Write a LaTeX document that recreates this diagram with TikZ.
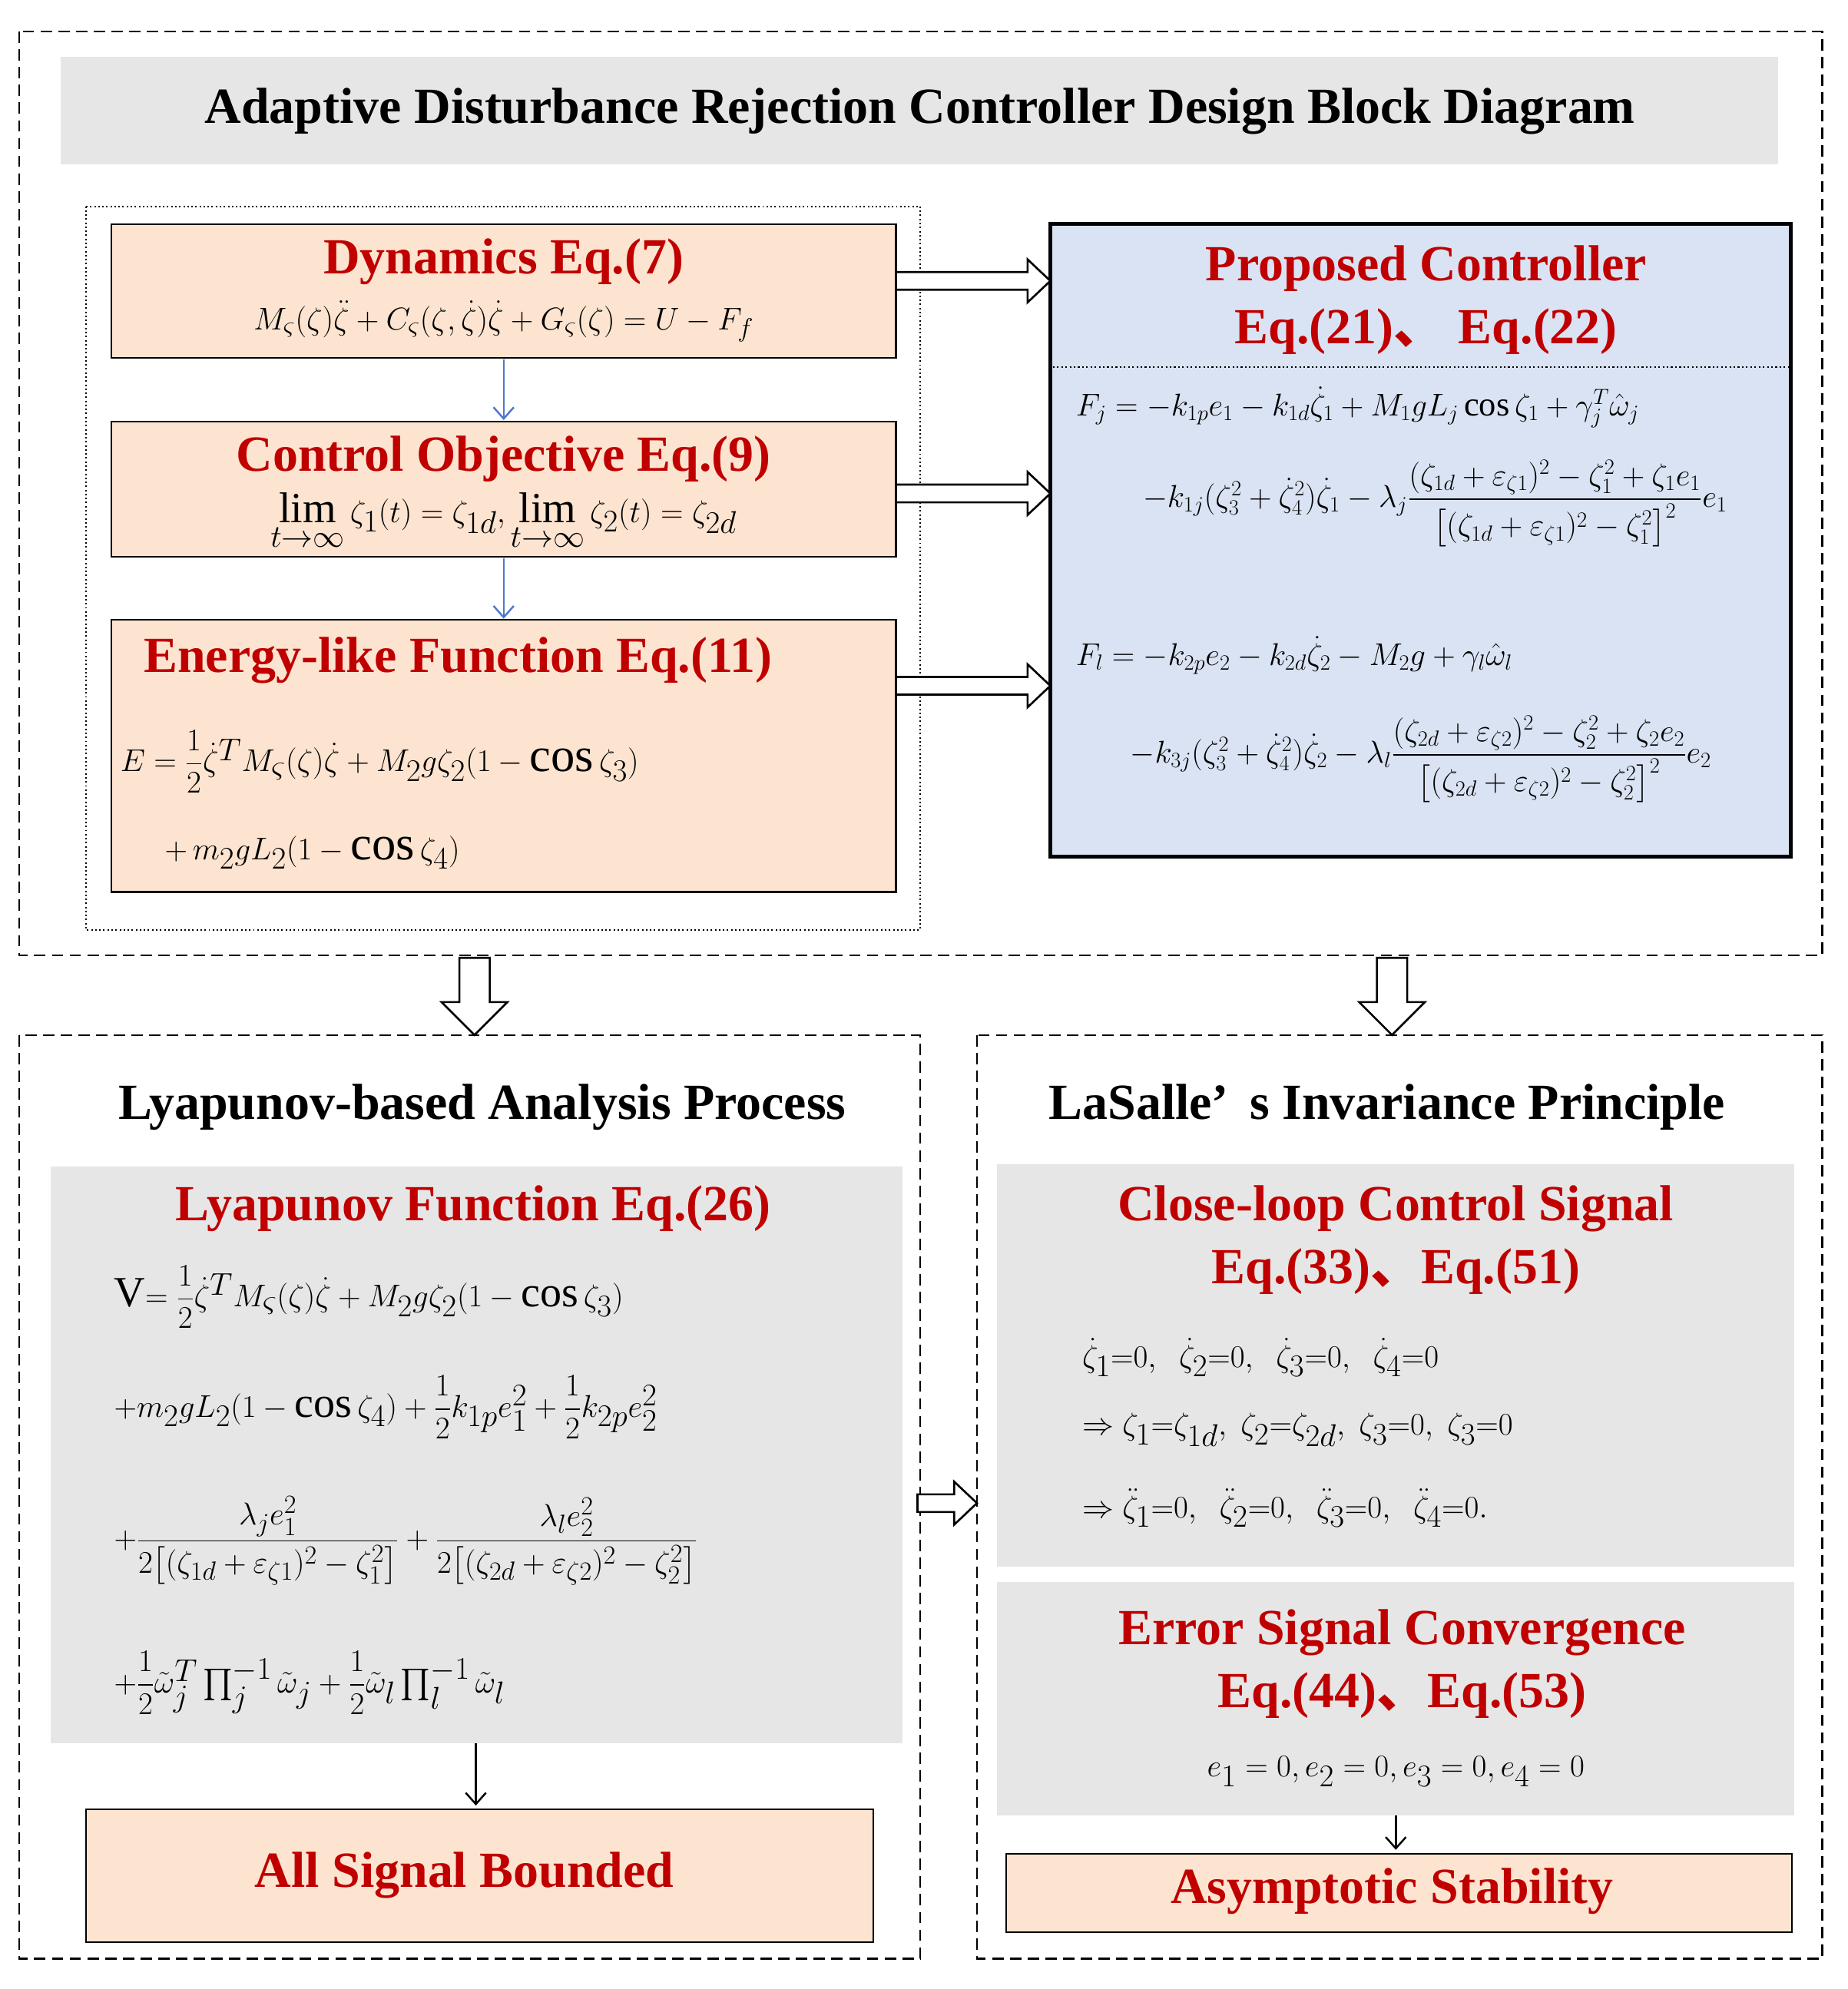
\documentclass[tikz,border=0pt]{standalone}
\usepackage{amsmath}
\usepackage{fontspec}
\setmainfont{Liberation Serif}
\newfontfamily\cjk{Noto Sans CJK SC}
\usetikzlibrary{arrows.meta}
\definecolor{org}{RGB}{252,228,208}
\definecolor{redt}{RGB}{192,0,0}
\definecolor{gry}{RGB}{230,230,230}
\definecolor{blu}{RGB}{218,227,243}
\definecolor{arb}{RGB}{80,120,200}
\tikzset{
 dbox/.style={draw,dashed,line width=1.3pt,dash pattern=on 9pt off 5pt},
 obox/.style={draw,fill=org,line width=1.3pt},
 ttl/.style={font=\fontsize{40}{46}\selectfont\bfseries,text=black},
 rt/.style={font=\fontsize{40}{50}\selectfont\bfseries,text=redt,align=center},
 eq/.style={font=\fontsize{32}{36}\selectfont,anchor=west,inner sep=0pt},
 hol/.style={draw,line width=1.6pt,fill=white},
 barr/.style={draw=arb,line width=1.5pt,-{Straight Barb[length=9pt,width=16pt]}},
 karr/.style={draw,line width=1.5pt,-{Straight Barb[length=9pt,width=16pt]}}
}
\newcommand\dun{{\cjk 、}}
\newcommand\holR[3]{\draw[hol] (#1,#3-7)--(#2-18,#3-7)--(#2-18,#3-17)--(#2,#3)--(#2-18,#3+17)--(#2-18,#3+7)--(#1,#3+7)--cycle;}
\newcommand\holD[3]{\draw[hol] (#3-12,#1)--(#3+12,#1)--(#3+12,#2-26)--(#3+26,#2-26)--(#3,#2)--(#3-26,#2-26)--(#3-12,#2-26)--cycle;}
\begin{document}
\begin{tikzpicture}[x=1pt,y=-1pt]
\useasboundingbox (0,0) rectangle (1460,1572);
% top
\draw[dbox] (15,25) rectangle (1440,755);
\fill[gry] (48,45) rectangle (1405,130);
\node[ttl] (title) at (727,88) {Adaptive Disturbance Rejection Controller Design Block Diagram};
\draw[dotted,line width=1.2pt] (68,163) rectangle (727,735);
\draw[obox] (88,177) rectangle (708,283);
\node[rt] (t1) at (398,207) {Dynamics Eq.(7)};
\node[eq,anchor=center] (e1) at (398,254) {$M_\varsigma(\zeta)\ddot\zeta+C_\varsigma(\zeta,\dot\zeta)\dot\zeta+G_\varsigma(\zeta)=U-F_f$};
\draw[obox] (88,333) rectangle (708,440);
\node[rt] (t2) at (398,363) {Control Objective Eq.(9)};
\node[eq,anchor=center,font=\fontsize{34}{36}\selectfont] (e2) at (398,412) {$\lim\limits_{t\to\infty}\zeta_1(t)=\zeta_{1d},\lim\limits_{t\to\infty}\zeta_2(t)=\zeta_{2d}$};
\draw[obox] (88,490) rectangle (708,705);
\node[rt] (t3) at (362,522) {Energy-like Function Eq.(11)};
\node[eq,font=\fontsize{38}{40}\selectfont] (e3) at (95,602) {$E=\dfrac12\dot\zeta^T M_\varsigma(\zeta)\dot\zeta+M_2g\zeta_2(1-\cos\zeta_3)$};
\node[eq,font=\fontsize{38}{40}\selectfont] (e3b) at (130,674) {$+\,m_2gL_2(1-\cos\zeta_4)$};
\draw[barr] (398,284) -- (398,332);
\draw[barr] (398,441) -- (398,489);
% blue
\draw[fill=blu,line width=3pt] (830,177) rectangle (1415,677);
\node[rt] (t4) at (1127,237) {Proposed Controller\\Eq.(21)\dun\;Eq.(22)};
\draw[dotted,line width=1.3pt] (832,290) -- (1413,290);
\node[eq,font=\fontsize{27}{30}\selectfont] at (850,322) {$F_j=-k_{1p}e_1-k_{1d}\dot\zeta_1+M_1gL_j\cos\zeta_1+\gamma_j^T\hat\omega_j$};
\node[eq,font=\fontsize{27}{30}\selectfont] at (903,398) {$-k_{1j}(\zeta_3^2+\dot\zeta_4^2)\dot\zeta_1-\lambda_j\dfrac{(\zeta_{1d}+\varepsilon_{\zeta1})^2-\zeta_1^2+\zeta_1e_1}{\big[(\zeta_{1d}+\varepsilon_{\zeta1})^2-\zeta_1^2\big]^2}e_1$};
\node[eq,font=\fontsize{27}{30}\selectfont] at (850,518) {$F_l=-k_{2p}e_2-k_{2d}\dot\zeta_2-M_2g+\gamma_l\hat\omega_l$};
\node[eq,font=\fontsize{27}{30}\selectfont] at (893,600) {$-k_{3j}(\zeta_3^2+\dot\zeta_4^2)\dot\zeta_2-\lambda_l\dfrac{(\zeta_{2d}+\varepsilon_{\zeta2})^2-\zeta_2^2+\zeta_2e_2}{\big[(\zeta_{2d}+\varepsilon_{\zeta2})^2-\zeta_2^2\big]^2}e_2$};
\holR{708}{830}{222}
\holR{708}{830}{390}
\holR{708}{830}{542}
\holD{757}{818}{375}
\holD{757}{818}{1100}
% bottom left
\draw[dbox] (15,818) rectangle (727,1548);
\node[ttl] (t5) at (381,875) {Lyapunov-based Analysis Process};
\fill[gry] (40,922) rectangle (713,1378);
\node[rt] (t6) at (374,955) {Lyapunov Function Eq.(26)};
\node[eq,font=\fontsize{34}{38}\selectfont] at (90,1025) {V$=\dfrac12\dot\zeta^T M_\varsigma(\zeta)\dot\zeta+M_2g\zeta_2(1-\cos\zeta_3)$};
\node[eq,font=\fontsize{34}{38}\selectfont] at (90,1112) {$+m_2gL_2(1-\cos\zeta_4)+\dfrac12k_{1p}e_1^2+\dfrac12k_{2p}e_2^2$};
\node[eq,font=\fontsize{30}{34}\selectfont] at (90,1218) {$+\dfrac{\lambda_je_1^2}{2\big[(\zeta_{1d}+\varepsilon_{\zeta1})^2-\zeta_1^2\big]}+\dfrac{\lambda_le_2^2}{2\big[(\zeta_{2d}+\varepsilon_{\zeta2})^2-\zeta_2^2\big]}$};
\node[eq,font=\fontsize{34}{38}\selectfont] at (90,1330) {$+\dfrac12\tilde\omega_j^T\prod\nolimits_j^{-1}\tilde\omega_j+\dfrac12\tilde\omega_l\prod\nolimits_l^{-1}\tilde\omega_l$};
\draw[karr] (376,1378) -- (376,1427);
\draw[obox] (68,1430) rectangle (690,1535);
\node[rt] (t7) at (367,1482) {All Signal Bounded};
\holR{725}{772}{1188}
% bottom right
\draw[dbox] (772,818) rectangle (1440,1548);
\node[ttl] (t8) at (1096,875) {LaSalle’\,\ s Invariance Principle};
\fill[gry] (788,920) rectangle (1418,1238);
\node[rt] (t9) at (1103,980) {Close-loop Control Signal\\Eq.(33)\dun Eq.(51)};
\node[eq,font=\fontsize{36}{40}\selectfont] at (855,1073) {$\dot\zeta_1{=}0,\;\;\dot\zeta_2{=}0,\;\;\dot\zeta_3{=}0,\;\;\dot\zeta_4{=}0$};
\node[eq,font=\fontsize{36}{40}\selectfont] at (855,1130) {$\Rightarrow\zeta_1{=}\zeta_{1d},\;\zeta_2{=}\zeta_{2d},\;\zeta_3{=}0,\;\zeta_3{=}0$};
\node[eq,font=\fontsize{36}{40}\selectfont] at (855,1192) {$\Rightarrow\ddot\zeta_1{=}0,\;\;\ddot\zeta_2{=}0,\;\;\ddot\zeta_3{=}0,\;\;\ddot\zeta_4{=}0.$};
\fill[gry] (788,1250) rectangle (1418,1435);
\node[rt] (t10) at (1108,1315) {Error Signal Convergence\\Eq.(44)\dun Eq.(53)};
\node[eq,anchor=center,font=\fontsize{33}{36}\selectfont] at (1103,1400) {$e_1=0,e_2=0,e_3=0,e_4=0$};
\draw[karr] (1103,1435) -- (1103,1462);
\draw[obox] (795,1465) rectangle (1416,1527);
\node[rt] (t11) at (1100,1495) {Asymptotic Stability};
\end{tikzpicture}
\end{document}
